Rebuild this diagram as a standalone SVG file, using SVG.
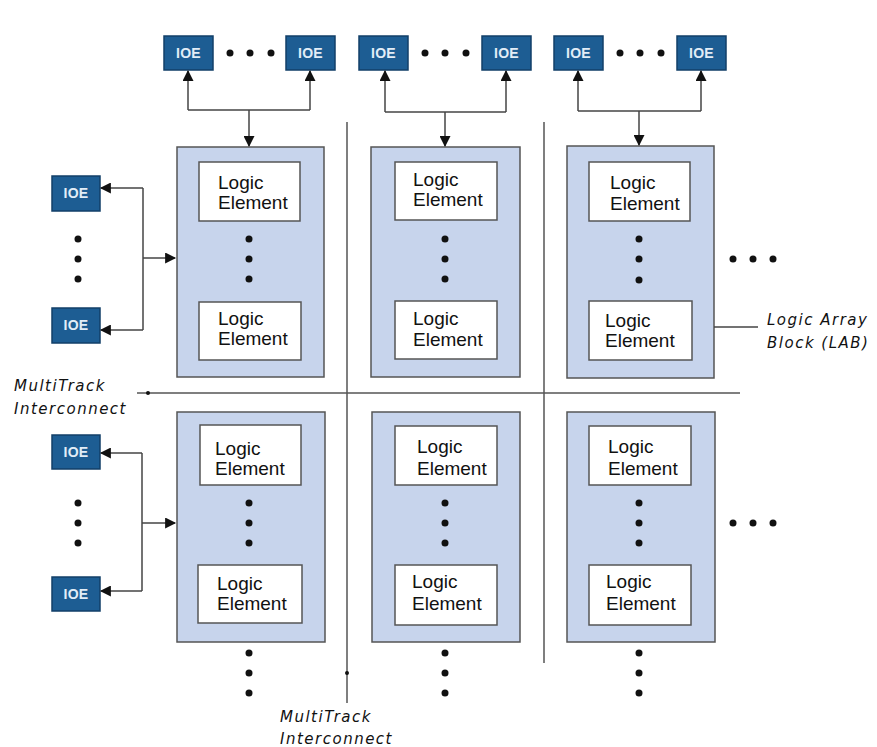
<svg xmlns="http://www.w3.org/2000/svg" width="877" height="747" viewBox="0 0 877 747">
<defs>
<style>
.ioe{fill:#1d5d93;stroke:#123f68;stroke-width:1.5}
.ioet{font-family:"Liberation Sans",Arial,sans-serif;font-weight:bold;font-size:14px;fill:#e2edf7;text-anchor:middle;letter-spacing:0.3px}
.lab{fill:#c7d4ec;stroke:#555;stroke-width:1.5}
.le{fill:#fff;stroke:#555;stroke-width:1.5}
.let{font-family:"Liberation Sans",Arial,sans-serif;font-size:19px;fill:#111}
.lbl{font-family:"DejaVu Sans","Liberation Sans",sans-serif;font-style:italic;font-size:15px;fill:#111;letter-spacing:1.5px}
.wire{fill:none;stroke:#444;stroke-width:1.5}
.grid{fill:none;stroke:#555;stroke-width:1.5}
.dot{fill:#111}
</style>
<marker id="ah" viewBox="0 0 10 10" refX="9" refY="5" markerWidth="12" markerHeight="11" markerUnits="userSpaceOnUse" orient="auto">
<path d="M0,0 L10,5 L0,10 z" fill="#111"/>
</marker>
<pattern id="lp" width="3" height="3" patternUnits="userSpaceOnUse">
<rect width="3" height="3" fill="#c1cfea"/>
<rect x="1" y="1" width="1" height="1" fill="#dbe4f4"/>
</pattern>
</defs>
<rect width="877" height="747" fill="#fff"/>

<!-- grid: MultiTrack interconnect -->
<g id="interconnect" class="grid">
<line x1="347" y1="122" x2="347" y2="703"/>
<line x1="544" y1="122" x2="544" y2="663"/>
<line x1="137" y1="393" x2="740" y2="393"/>
</g>
<circle cx="148" cy="393" r="2" class="dot"/>
<circle cx="347" cy="673" r="2" class="dot"/>

<!-- top IOEs -->
<g id="ioe-t1"><rect class="ioe" x="164" y="36" width="49" height="34"/><text class="ioet" x="188.5" y="58">IOE</text></g>
<g id="ioe-t2"><rect class="ioe" x="286" y="36" width="49" height="34"/><text class="ioet" x="310.5" y="58">IOE</text></g>
<g id="ioe-t3"><rect class="ioe" x="359" y="36" width="49" height="34"/><text class="ioet" x="383.5" y="58">IOE</text></g>
<g id="ioe-t4"><rect class="ioe" x="482" y="36" width="49" height="34"/><text class="ioet" x="506.5" y="58">IOE</text></g>
<g id="ioe-t5"><rect class="ioe" x="554" y="36" width="49" height="34"/><text class="ioet" x="578.5" y="58">IOE</text></g>
<g id="ioe-t6"><rect class="ioe" x="677" y="36" width="49" height="34"/><text class="ioet" x="701.5" y="58">IOE</text></g>

<!-- left IOEs -->
<g id="ioe-l1"><rect class="ioe" x="52" y="176" width="48" height="35"/><text class="ioet" x="76" y="198">IOE</text></g>
<g id="ioe-l2"><rect class="ioe" x="52" y="308" width="48" height="35"/><text class="ioet" x="76" y="330">IOE</text></g>
<g id="ioe-l3"><rect class="ioe" x="52" y="435" width="48" height="34"/><text class="ioet" x="76" y="457">IOE</text></g>
<g id="ioe-l4"><rect class="ioe" x="52" y="577" width="48" height="34"/><text class="ioet" x="76" y="599">IOE</text></g>

<!-- LABs row 1 -->
<g id="lab-r1c1">
<rect class="lab" x="177" y="147" width="147" height="230" fill="url(#lp)"/>
<rect class="le" x="199" y="162" width="101" height="59"/>
<text class="let" x="218" y="189">Logic</text><text class="let" x="218" y="209">Element</text>
<circle class="dot" cx="249" cy="239" r="3.5"/><circle class="dot" cx="249" cy="259" r="3.5"/><circle class="dot" cx="249" cy="279" r="3.5"/>
<rect class="le" x="199" y="302" width="102" height="58"/>
<text class="let" x="218" y="325">Logic</text><text class="let" x="218" y="345">Element</text>
</g>
<g id="lab-r1c2">
<rect class="lab" x="371" y="147" width="149" height="230" fill="url(#lp)"/>
<rect class="le" x="395" y="162" width="102" height="58"/>
<text class="let" x="413" y="186">Logic</text><text class="let" x="413" y="206">Element</text>
<circle class="dot" cx="445" cy="239" r="3.5"/><circle class="dot" cx="445" cy="259" r="3.5"/><circle class="dot" cx="445" cy="279" r="3.5"/>
<rect class="le" x="395" y="301" width="102" height="58"/>
<text class="let" x="413" y="325">Logic</text><text class="let" x="413" y="346">Element</text>
</g>
<g id="lab-r1c3">
<rect class="lab" x="567" y="146" width="147" height="232" fill="url(#lp)"/>
<rect class="le" x="589" y="162" width="101" height="59"/>
<text class="let" x="610" y="189">Logic</text><text class="let" x="610" y="210">Element</text>
<circle class="dot" cx="639" cy="239" r="3.5"/><circle class="dot" cx="639" cy="259" r="3.5"/><circle class="dot" cx="639" cy="280" r="3.5"/>
<rect class="le" x="589" y="301" width="103" height="59"/>
<text class="let" x="605" y="327">Logic</text><text class="let" x="605" y="347">Element</text>
</g>

<!-- LABs row 2 -->
<g id="lab-r2c1">
<rect class="lab" x="177" y="412" width="148" height="230" fill="url(#lp)"/>
<rect class="le" x="200" y="425" width="101" height="60"/>
<text class="let" x="215" y="455">Logic</text><text class="let" x="215" y="475">Element</text>
<circle class="dot" cx="249" cy="503" r="3.5"/><circle class="dot" cx="249" cy="523" r="3.5"/><circle class="dot" cx="249" cy="543" r="3.5"/>
<rect class="le" x="198" y="565" width="104" height="58"/>
<text class="let" x="217" y="590">Logic</text><text class="let" x="217" y="610">Element</text>
</g>
<g id="lab-r2c2">
<rect class="lab" x="372" y="412" width="148" height="230" fill="url(#lp)"/>
<rect class="le" x="395" y="426" width="102" height="59"/>
<text class="let" x="417" y="453">Logic</text><text class="let" x="417" y="475">Element</text>
<circle class="dot" cx="445" cy="503" r="3.5"/><circle class="dot" cx="445" cy="523" r="3.5"/><circle class="dot" cx="445" cy="543" r="3.5"/>
<rect class="le" x="395" y="565" width="102" height="60"/>
<text class="let" x="412" y="588">Logic</text><text class="let" x="412" y="610">Element</text>
</g>
<g id="lab-r2c3">
<rect class="lab" x="567" y="412" width="148" height="230" fill="url(#lp)"/>
<rect class="le" x="589" y="426" width="102" height="59"/>
<text class="let" x="608" y="453">Logic</text><text class="let" x="608" y="475">Element</text>
<circle class="dot" cx="639" cy="503" r="3.5"/><circle class="dot" cx="639" cy="523" r="3.5"/><circle class="dot" cx="639" cy="543" r="3.5"/>
<rect class="le" x="589" y="565" width="102" height="60"/>
<text class="let" x="606" y="588">Logic</text><text class="let" x="606" y="610">Element</text>
</g>

<!-- connectors -->
<g id="connectors" class="wire">
<path d="M188,110 L188,71" marker-end="url(#ah)"/>
<path d="M310,110 L310,71" marker-end="url(#ah)"/>
<path d="M188,110 L310,110"/>
<path d="M249,110 L249,146" marker-end="url(#ah)"/>
<path d="M385,112 L385,71" marker-end="url(#ah)"/>
<path d="M506,112 L506,71" marker-end="url(#ah)"/>
<path d="M385,112 L506,112"/>
<path d="M445,112 L445,146" marker-end="url(#ah)"/>
<path d="M578,111 L578,71" marker-end="url(#ah)"/>
<path d="M701,111 L701,71" marker-end="url(#ah)"/>
<path d="M578,111 L701,111"/>
<path d="M639,111 L639,145" marker-end="url(#ah)"/>
<path d="M143,188 L143,330"/>
<path d="M143,188 L101,188" marker-end="url(#ah)"/>
<path d="M143,330 L101,330" marker-end="url(#ah)"/>
<path d="M143,258 L175,258" marker-end="url(#ah)"/>
<path d="M142,453 L142,591"/>
<path d="M142,453 L101,453" marker-end="url(#ah)"/>
<path d="M142,591 L101,591" marker-end="url(#ah)"/>
<path d="M142,523 L175,523" marker-end="url(#ah)"/>
<path d="M714,327 L758,327"/>
</g>

<!-- ellipsis dots -->
<g id="ellipses" class="dot">
<circle cx="230" cy="53" r="3.5"/><circle cx="250" cy="53" r="3.5"/><circle cx="271" cy="53" r="3.5"/>
<circle cx="425" cy="53" r="3.5"/><circle cx="445" cy="53" r="3.5"/><circle cx="466" cy="53" r="3.5"/>
<circle cx="620" cy="53" r="3.5"/><circle cx="640" cy="53" r="3.5"/><circle cx="661" cy="53" r="3.5"/>
<circle cx="78" cy="239" r="3.5"/><circle cx="78" cy="259" r="3.5"/><circle cx="78" cy="279" r="3.5"/>
<circle cx="78" cy="503" r="3.5"/><circle cx="78" cy="523" r="3.5"/><circle cx="78" cy="543" r="3.5"/>
<circle cx="733" cy="259" r="3.5"/><circle cx="753" cy="259" r="3.5"/><circle cx="773" cy="259" r="3.5"/>
<circle cx="733" cy="523" r="3.5"/><circle cx="753" cy="523" r="3.5"/><circle cx="773" cy="523" r="3.5"/>
<circle cx="249" cy="653" r="3.5"/><circle cx="249" cy="673" r="3.5"/><circle cx="249" cy="693" r="3.5"/>
<circle cx="445" cy="653" r="3.5"/><circle cx="445" cy="673" r="3.5"/><circle cx="445" cy="693" r="3.5"/>
<circle cx="639" cy="653" r="3.5"/><circle cx="639" cy="673" r="3.5"/><circle cx="639" cy="693" r="3.5"/>
</g>

<!-- labels -->
<g id="label-mt-left"><text class="lbl" x="14" y="391">MultiTrack</text><text class="lbl" x="14" y="414">Interconnect</text></g>
<g id="label-mt-bottom"><text class="lbl" x="280" y="722">MultiTrack</text><text class="lbl" x="280" y="744">Interconnect</text></g>
<g id="label-lab"><text class="lbl" x="767" y="325">Logic Array</text><text class="lbl" x="767" y="348">Block (LAB)</text></g>
</svg>
